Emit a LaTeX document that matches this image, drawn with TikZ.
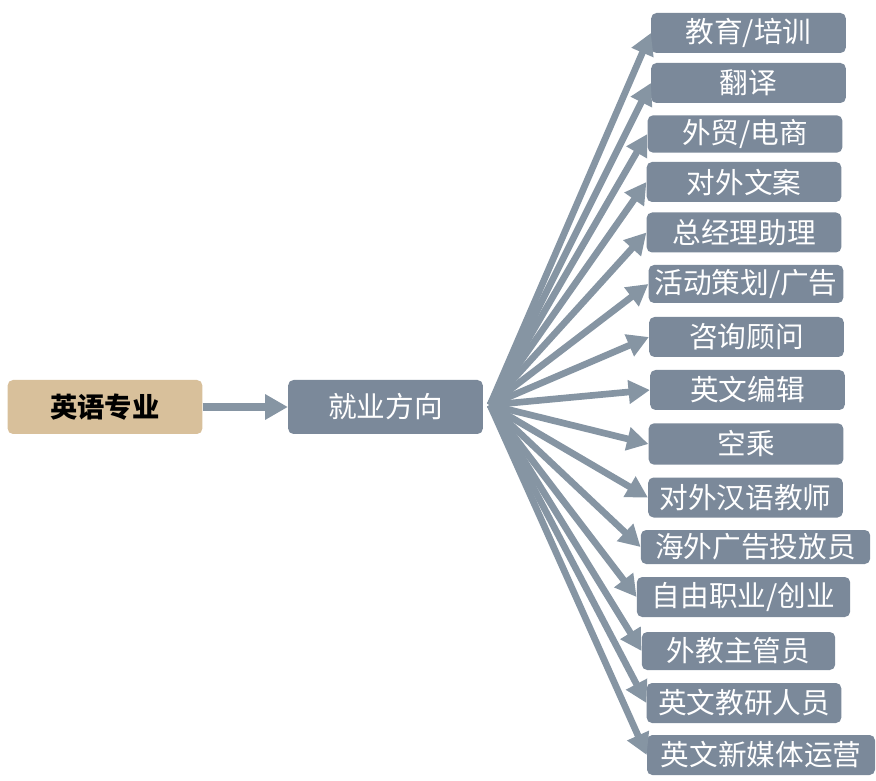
\documentclass[tikz,border=0pt]{standalone}
\usepackage{fontspec}
\newfontfamily\cjk{Noto Sans CJK SC}
\usetikzlibrary{arrows.meta}
\definecolor{majorfill}{HTML}{D8C09B}
\definecolor{jobfill}{HTML}{7B899A}
\definecolor{arrowgray}{HTML}{8695A3}

\begin{document}
\begin{tikzpicture}[x=0.75pt,y=-0.75pt,
    box/.style={rounded corners=4pt, inner sep=0pt, minimum width=146pt, minimum height=30pt,
        font=\cjk\fontsize{21.5}{23}\selectfont},
    major/.style={box, fill=majorfill, text=black, font=\cjk\bfseries\fontsize{20.5}{23}\selectfont},
    job/.style={box, fill=jobfill, text=white},
    link/.style={draw=arrowgray, line width=5pt, -{Triangle[length=16pt,width=17pt]}}]
    \useasboundingbox (0,0) rectangle (876,781);
    % left side
    \node [major, minimum height=40.5pt] (major) at (105,407) {英语专业};
    \node [job, minimum height=40.5pt] (way) at (385.5,407) {就业方向};
    \draw [link, line width=5.5pt, -{Triangle[length=17pt,width=18pt]}] (major) -- (way);
    \coordinate (hub) at (490,405);
    % jobs
    \node [job] (teach) at (748.5,33) {教育/培训};
    \node [job] (transl) at (748.5,83) {翻译};
    \node [job, minimum height=28pt] (trade) at (745,134) {外贸/电商};
    \node [job] (copy) at (744,182) {对外文案};
    \node [job] (assist) at (744,232.5) {总经理助理};
    \node [job, minimum height=28.5pt] (event) at (746,284) {活动策划/广告};
    \node [job] (consult) at (746.5,337) {咨询顾问};
    \node [job] (editor) at (747.5,390) {英文编辑};
    \node [job, minimum height=31pt] (crew) at (746,444) {空乘};
    \node [job] (chinese) at (745.5,497.5) {对外汉语教师};
    \node [job, minimum width=172pt, minimum height=25.5pt] (ads) at (755.5,547) {海外广告投放员};
    \node [job, minimum width=160pt] (free) at (743.5,597) {自由职业/创业};
    \node [job, minimum width=145pt, minimum height=28.5pt] (foreign) at (738.5,651) {外教主管员};
    \node [job] (research) at (744,703) {英文教研人员};
    \node [job, minimum width=171pt] (media) at (761,755) {英文新媒体运营};
    \foreach \j in {teach,transl,trade,copy,assist,event,consult,editor,crew,chinese,ads,free,foreign,research,media}
        \draw [link] (hub) -- (\j.west);
\end{tikzpicture}
\end{document}
